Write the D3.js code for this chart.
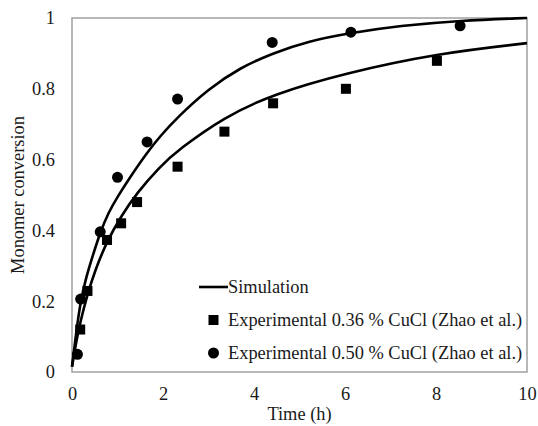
<!DOCTYPE html>
<html>
<head>
<meta charset="utf-8">
<script src="https://cdn.jsdelivr.net/npm/d3@7"></script>
<style>
  body { margin: 0; background: #fff; }
  svg text { font-family: "Liberation Serif", "Times New Roman", serif; fill: #1a1a1a; }
</style>
</head>
<body>
<svg id="chart" width="538" height="426"></svg>
<script>
  // Experimental points
  const exp036Time = [0.18, 0.34, 0.77, 1.08, 1.43, 2.32, 3.35, 4.42, 6.02, 8.02];
  const exp036Conv = [0.12, 0.229, 0.373, 0.42, 0.48, 0.58, 0.679, 0.759, 0.80, 0.879];

  const exp050Time = [0.12, 0.19, 0.62, 1.0, 1.65, 2.32, 4.4, 6.13, 8.53];
  const exp050Conv = [0.05, 0.206, 0.396, 0.55, 0.65, 0.771, 0.931, 0.96, 0.978];

  // Simulation curves, traced
  const sim036Time = [0, 0.1, 0.18, 0.33, 0.5, 0.77, 1.08, 1.42, 1.93, 2.33, 3.34, 4.42, 6.02, 8.02, 10];
  const sim036Conv = [0.015, 0.09, 0.14, 0.215, 0.285, 0.37, 0.44, 0.505, 0.58, 0.627, 0.72, 0.785, 0.845, 0.90, 0.929];

  const sim050Time = [0, 0.1, 0.19, 0.3, 0.43, 0.62, 0.8, 1.0, 1.3, 1.65, 1.93, 2.32, 3.0, 3.7, 4.4, 5.2, 6.13, 7.2, 8.53, 10];
  const sim050Conv = [0.015, 0.12, 0.2, 0.262, 0.318, 0.395, 0.45, 0.495, 0.555, 0.62, 0.665, 0.72, 0.80, 0.86, 0.90, 0.935, 0.958, 0.978, 0.993, 1.0];

  const xTicks = [0, 2, 4, 6, 8, 10];
  const yTicks = [0, 0.2, 0.4, 0.6, 0.8, 1];
  const legendLabels = ['Simulation', 'Experimental 0.36 % CuCl (Zhao et al.)', 'Experimental 0.50 % CuCl (Zhao et al.)'];

  const FONT = '18.4px';
  const svg = d3.select('#chart');
  const margin = { left: 72, right: 11, top: 18, bottom: 54 };
  const width = +svg.attr('width');
  const height = +svg.attr('height');

  const x = d3.scaleLinear().domain([0, 10]).range([margin.left, width - margin.right]);
  const y = d3.scaleLinear().domain([0, 1]).range([height - margin.bottom, margin.top]);

  const zip = (a, b) => a.map((v, i) => [v, b[i]]);

  // plot border
  svg.append('rect')
    .attr('x', x(0)).attr('y', y(1))
    .attr('width', x(10) - x(0)).attr('height', y(0) - y(1))
    .attr('fill', 'none').attr('stroke', '#a0a0a0').attr('stroke-width', 1.5);

  // axes: labels only, no ticks
  const xAxis = svg.append('g')
    .attr('transform', `translate(0,${y(0)})`)
    .call(d3.axisBottom(x).tickValues(xTicks).tickSize(0).tickPadding(15).tickFormat(d3.format('d')));
  const yAxis = svg.append('g')
    .attr('transform', `translate(${x(0)},0)`)
    .call(d3.axisLeft(y).tickValues(yTicks).tickSize(0).tickPadding(17).tickFormat(d => d === 0 || d === 1 ? d : d.toFixed(1)));
  [xAxis, yAxis].forEach(a => {
    a.attr('font-family', null).attr('font-size', null);
    a.select('.domain').remove();
    a.selectAll('text').style('font-size', FONT);
  });

  svg.append('text')
    .attr('x', (x(0) + x(10)) / 2).attr('y', 420)
    .attr('text-anchor', 'middle').style('font-size', FONT)
    .text('Time (h)');
  svg.append('text')
    .attr('transform', `translate(24,${(y(0) + y(1)) / 2}) rotate(-90)`)
    .attr('text-anchor', 'middle').style('font-size', FONT)
    .text('Monomer conversion');

  const line = d3.line().x(d => x(d[0])).y(d => y(d[1])).curve(d3.curveBasis);

  [zip(sim036Time, sim036Conv), zip(sim050Time, sim050Conv)].forEach(s => {
    svg.append('path').datum(s)
      .attr('d', line)
      .attr('fill', 'none').attr('stroke', '#000').attr('stroke-width', 2.6);
  });

  const sq = 10;
  svg.selectAll('rect.sq')
    .data(zip(exp036Time, exp036Conv))
    .enter().append('rect')
    .attr('class', 'sq')
    .attr('x', d => x(d[0]) - sq / 2).attr('y', d => y(d[1]) - sq / 2)
    .attr('width', sq).attr('height', sq)
    .attr('fill', '#000');

  svg.selectAll('circle.pt')
    .data(zip(exp050Time, exp050Conv))
    .enter().append('circle')
    .attr('class', 'pt')
    .attr('cx', d => x(d[0])).attr('cy', d => y(d[1]))
    .attr('r', 5.5)
    .attr('fill', '#000');

  // legend
  const lg = svg.append('g').attr('transform', 'translate(199,0)');
  const rowY = [287, 320, 353];
  lg.append('line')
    .attr('x1', 0).attr('x2', 29).attr('y1', rowY[0]).attr('y2', rowY[0])
    .attr('stroke', '#000').attr('stroke-width', 2.6);
  lg.append('rect')
    .attr('x', 14.5 - 5).attr('y', rowY[1] - 5).attr('width', 10).attr('height', 10)
    .attr('fill', '#000');
  lg.append('circle')
    .attr('cx', 14.5).attr('cy', rowY[2]).attr('r', 5.5).attr('fill', '#000');
  lg.selectAll('text.lg')
    .data(legendLabels)
    .enter().append('text')
    .attr('class', 'lg')
    .attr('x', 29).attr('y', (d, i) => rowY[i])
    .attr('dy', '0.33em')
    .style('font-size', FONT)
    .text(d => d);
</script>
</body>
</html>
